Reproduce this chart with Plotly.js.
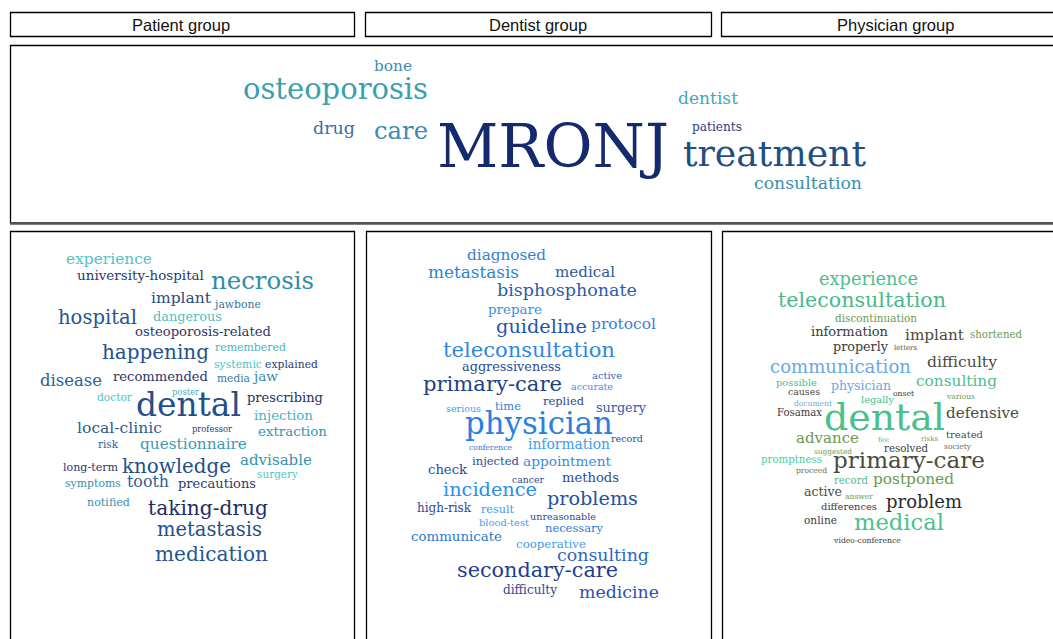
<!DOCTYPE html>
<html><head><meta charset="utf-8">
<script src="https://cdn.plot.ly/plotly-3.0.1.min.js"></script>
<style>html,body{margin:0;padding:0;background:#fff;}#chart{width:1053px;height:639px;}</style>
</head><body><div id="chart"></div>
<script>
// ---------- data: words, extents (left/right) and x-height centres, colours ----------
const headers = ['Patient group', 'Dentist group', 'Physician group'];

const topWords = ['bone','osteoporosis','drug','care','MRONJ','dentist','patients','treatment','consultation'];
const topX0 = [374,243,313,374,437,678,692,683,754];
const topX1 = [412,428,355,428,669,738,742,866,862];
const topY  = [67,92,130,133,152,100,128,157,185];
const topColors = ['#3f8fae','#3aa0b0','#3e6e9c','#3c8aae','#14296e','#41a8b8','#2c3d7a','#1f4f82','#3b8eb0'];

const patientWords = ['experience','university-hospital','necrosis','implant','jawbone','hospital','dangerous','osteoporosis-related','happening','remembered','systemic','explained','disease','recommended','media','jaw','doctor','poster','dental','prescribing','injection','local-clinic','professor','extraction','risk','questionnaire','long-term','knowledge','advisable','surgery','symptoms','tooth','precautions','notified','taking-drug','metastasis','medication'];
const patientX0 = [66,77,211,151,215,58,153,135,102,215,214,265,40,113,217,254,97,172,136,247,254,77,192,258,98,140,63,122,240,257,65,127,178,87,148,157,155];
const patientX1 = [152,204,314,211,261,137,222,271,209,286,262,318,102,208,250,278,132,199,241,323,313,162,232,327,118,247,118,231,312,298,121,169,256,130,268,262,268];
const patientY  = [260,277,283,299,305,319,318,333,354,348,365,365,382,378,379,378,398,393,408,399,417,429,430,433,445,445,468,468,461,475,484,483,485,503,510,531,556];
const patientColors = ['#4fc3c4','#2c3a6c','#2f8ea8','#2a4c80','#3573a3','#265690','#4dc1c3','#2c3567','#245289','#4bb5c0','#4bc4c6','#2d3d72','#2a5f92','#2b3364','#3a7aa8','#3a8ab0','#4fc6c6','#4aaec0','#1f4f8c','#2b2f5e','#45b2c0','#2b5d93','#2f3a6e','#3895b0','#2f5c8e','#3a9ab3','#2d3769','#24508a','#3892ae','#4fc6c6','#3a90ae','#2f5e92','#2d3a6e','#3a8eb0','#1f2c66','#24508a','#245690'];

const dentistWords = ['diagnosed','metastasis','medical','bisphosphonate','prepare','guideline','protocol','teleconsultation','aggressiveness','active','primary-care','accurate','replied','serious','time','surgery','physician','record','conference','information','check','injected','appointment','cancer','methods','incidence','problems','high-risk','result','unreasonable','blood-test','necessary','communicate','cooperative','consulting','secondary-care','difficulty','medicine'];
const dentistX0 = [467,428,555,497,488,496,591,443,462,592,423,571,543,446,495,596,465,611,469,528,428,472,523,512,562,443,547,417,481,530,479,545,411,516,557,457,503,579];
const dentistX1 = [546,519,615,637,542,587,656,615,561,622,562,613,584,481,521,646,613,643,512,610,467,519,611,544,619,537,638,471,514,596,529,603,502,586,649,618,557,659];
const dentistY  = [256,274,273,292,311,328,325,352,368,377,386,388,402,410,407,409,426,440,448,446,471,462,463,481,479,491,500,509,510,518,524,529,538,545,557,572,591,594];
const dentistColors = ['#2f80d8','#2b82da','#2d56a3','#2a5cb2','#3a90e2','#2454aa','#3a7fd2','#2e88dd','#2d4a94','#3065b8','#203f88','#3a90e4','#2d4890','#3aa2f2','#3a80d4','#2d5ab2','#2a80e0','#2d4890','#3a70c4','#3a9cf0','#2d4a94','#2d4a94','#3a8ae2','#2d4890','#2d4a94','#2a90ef','#2350a8','#2d4a94','#3a9cf0','#2d4a94','#3aa2f2','#2a7ad8','#2a78d0','#3a9cf0','#2a68c2','#1f4090','#2d4a94','#2a50a8'];

const physicianWords = ['experience','teleconsultation','discontinuation','information','implant','shortened','properly','letters','difficulty','communication','possible','physician','consulting','causes','onset','legally','various','document','Fosamax','dental','defensive','advance','fee','risks','treated','suggested','resolved','society','promptness','primary-care','proceed','record','postponed','active','answer','differences','problem','online','medical','video-conference'];
const physicianX0 = [819,778,835,811,905,970,833,894,927,770,776,831,916,788,893,861,947,794,777,824,946,796,878,921,946,814,884,944,761,833,796,834,873,804,845,821,886,804,854,834];
const physicianX1 = [918,946,917,888,964,1022,888,917,997,911,817,891,997,820,914,894,975,832,822,945,1019,859,889,938,983,852,928,971,822,985,827,868,954,842,873,877,962,837,944,901];
const physicianY  = [281,302,319,333,336,335,348,348,363,368,384,387,382,393,394,401,397,404,413,421,414,439,440,439,436,452,449,447,460,462,471,481,480,493,497,508,503,521,524,541];
const physicianColors = ['#4cc08c','#47b98a','#6b9a50','#3b3b3b','#4b4b42','#6b9a50','#3b3b3b','#4b4b42','#4b4b3c','#6aa8e2','#4cc08c','#6aa8e2','#4cc08c','#4b4b3c','#3b3b3b','#4cc08c','#6b9a50','#6aa8e2','#3b3b3b','#4cc08c','#4b4b3c','#6b9a50','#4cc08c','#6b9a50','#4b4b3c','#6b9a50','#3b3b3b','#6b6b5a','#4cd09a','#4b4b3c','#6b6b50','#4cc08c','#6b9a50','#4b4b3c','#6b9a50','#3b3b3b','#2b2b2b','#3b3b3b','#4cc08c','#3b3b3b'];

// ---------- rendering ----------
const FONT = 'DejaVu Serif';
const cvs = document.createElement('canvas').getContext('2d');
cvs.font = '100px "' + FONT + '"';
function fit(word, w) { return 100 * w / cvs.measureText(word).width; }

function panel(words, x0, x1, y, colors) {
  return {
    type: 'scatter', mode: 'text',
    x: x0.map((a, i) => (a + x1[i]) / 2), y: y, text: words,
    textposition: 'middle center',
    textfont: { family: FONT + ', serif', size: words.map((w, i) => fit(w, x1[i] - x0[i])), color: colors },
    hoverinfo: 'skip', cliponaxis: false, showlegend: false
  };
}

const data = [
  panel(topWords, topX0, topX1, topY, topColors),
  panel(patientWords, patientX0, patientX1, patientY, patientColors),
  panel(dentistWords, dentistX0, dentistX1, dentistY, dentistColors),
  panel(physicianWords, physicianX0, physicianX1, physicianY, physicianColors)
];

const box = (x0, y0, x1, y1, c, w) => ({ type: 'rect', xref: 'x', yref: 'y', x0: x0, y0: y0, x1: x1, y1: y1, line: { color: c || '#000', width: w || 1.3 }, fillcolor: 'rgba(0,0,0,0)' });
const shapes = [
  box(10.5, 12.5, 354.5, 36.5), box(365.5, 12.5, 711.5, 36.5), box(721.5, 12.5, 1070, 36.5),
  box(10.5, 45.5, 1070, 223, '#000', 1.3),
  { type: 'line', xref: 'x', yref: 'y', x0: 10, x1: 1070, y0: 223.5, y1: 223.5, line: { color: '#555', width: 2.5 } },
  box(10.5, 231.5, 354.5, 660), box(366.5, 231.5, 711.5, 660), box(722.5, 231.5, 1070, 660)
];
const hx = [181, 538, 895];
const annotations = headers.map((h, i) => ({
  x: hx[i], y: 24.5, xref: 'x', yref: 'y', text: h, showarrow: false,
  xanchor: 'center', yanchor: 'middle', font: { family: 'Liberation Sans, Arial, sans-serif', size: 16.5, color: '#111' }
}));

const layout = {
  width: 1053, height: 639, margin: { l: 0, r: 0, t: 0, b: 0 },
  paper_bgcolor: '#fff', plot_bgcolor: '#fff', showlegend: false,
  xaxis: { range: [0, 1053], visible: false, fixedrange: true },
  yaxis: { range: [639, 0], visible: false, fixedrange: true },
  shapes: shapes, annotations: annotations, hovermode: false
};
Plotly.newPlot('chart', data, layout, { displayModeBar: false, staticPlot: true });
</script></body></html>
